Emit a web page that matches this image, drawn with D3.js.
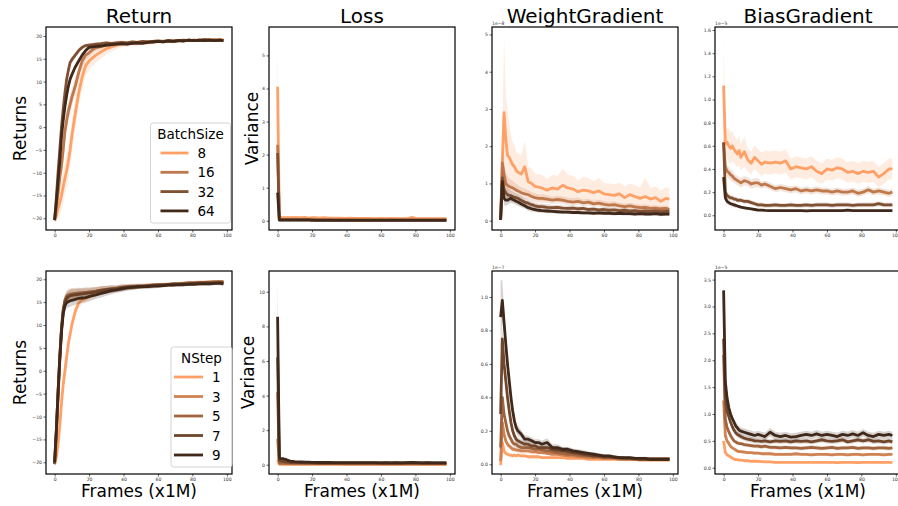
<!DOCTYPE html>
<html>
<head>
<meta charset="utf-8">
<script src="https://cdn.jsdelivr.net/npm/d3@7"></script>
<style>
  body { margin: 0; background: #fff; }
  text { font-family: "DejaVu Sans", sans-serif; }
</style>
</head>
<body>
<svg id="chart" width="898" height="506"></svg>
<script>
// frames (x1M) at which values were read
const frames = [0,1,2,3,4,5,6,7,8,9,10,12,14,16,18,20,22,24,27,30,33,36,39,42,45,48,51,54,57,60,63,66,69,72,75,78,81,84,87,90,93,96,98];

const batchSizes = ["8", "16", "32", "64"];
const nSteps = ["1", "3", "5", "7", "9"];
const titles = ["Return", "Loss", "WeightGradient", "BiasGradient"];
const xTicks = [0, 20, 40, 60, 80, 100];

// ---- top row: batch size ----
const returnBatch = [
  [-20.4,-19.5,-17.8,-16.5,-15,-13,-11.2,-9.5,-7.5,-5,-2, 3,7.5,11,13.5,14.5,15.2,15.8, 16.5,17.2,17.6,18,18.3,18.2,18.5,18.4,18.6,18.5,18.7,18.8,18.7,18.9,18.8,19,18.9,19.1,19,19.1,19,19.2,19.1,19.2, 19.1],
  [-20.4,-17.5,-14.5,-11,-8.5,-5,-1,1.5,3.5,5,6.5, 9,12,14.5,15.8,16.3,17,17.4, 17.7,18,18.1,18.3,18.2,18.4,18.5,18.4,18.6,18.7,18.6,18.8,18.8,18.9,18.8,19,19,19.1,19,19.1,19.2,19.1,19.2,19.1, 19.1],
  [-20.4,-15.5,-10,-5,0,4,7.5,10.5,12.5,14.2,14.8, 15.8,16.8,17.5,17.9,18,18.1,18.2, 18.3,18.5,18.4,18.5,18.6,18.5,18.7,18.6,18.8,18.7,18.8,18.9,18.8,19,18.9,19,19.1,19,19.1,19,19.2,19.1,19,19.1, 19],
  [-20.4,-16.5,-12,-7.5,-2,1.5,4.5,7,9,10.5,11.5, 13.2,14.5,15.8,16.8,17.5,17.6,17.7, 17.8,18,18.1,18.2,18.3,18.2,18.4,18.5,18.4,18.6,18.7,18.8,18.7,18.9,18.8,19,18.9,19.1,19,19.1,19,19.1,19,19.1, 19]
];
const returnBatchBand = [
  [0.3,1.5,2.2,2.8,3.2,3.4,3.5,3.5,3.5,3.5,3.4, 3.2,3,2.6,2.3,2,1.8,1.6, 1.4,1.2,1,0.9,0.8,0.7,0.6,0.6,0.5,0.5,0.5,0.5,0.45,0.45,0.4,0.4,0.4,0.4,0.4,0.4,0.4,0.4,0.4,0.4, 0.4],
  [0.3,1.8,2.4,2.6,2.6,2.5,2.4,2.3,2.2,2.1,2, 1.8,1.6,1.3,1.1,0.9,0.8,0.7, 0.6,0.5,0.5,0.45,0.4,0.4,0.4,0.35,0.35,0.35,0.3,0.3,0.3,0.3,0.3,0.3,0.3,0.3,0.3,0.3,0.3,0.3,0.3,0.3, 0.3],
  [0.3,1.5,1.8,1.8,1.6,1.4,1.2,1,0.9,0.8,0.7, 0.6,0.5,0.45,0.4,0.4,0.35,0.35, 0.3,0.3,0.3,0.3,0.3,0.3,0.3,0.3,0.3,0.3,0.3,0.3,0.3,0.3,0.3,0.3,0.3,0.3,0.3,0.3,0.3,0.3,0.3,0.3, 0.3],
  [0.3,1.5,1.8,1.8,1.6,1.4,1.2,1,0.9,0.8,0.7, 0.6,0.5,0.45,0.4,0.4,0.35,0.35, 0.3,0.3,0.3,0.3,0.3,0.3,0.3,0.3,0.3,0.3,0.3,0.3,0.3,0.3,0.3,0.3,0.3,0.3,0.3,0.3,0.3,0.3,0.3,0.3, 0.3]
];

const lossBatch = [
  [4.05,0.08,0.1,0.09,0.1,0.09,0.1,0.09,0.1,0.09,0.1, 0.09,0.09,0.1,0.08,0.09,0.09,0.08, 0.09,0.08,0.08,0.08,0.07,0.08,0.07,0.07,0.07,0.07,0.06,0.07,0.06,0.07,0.06,0.06,0.06,0.1,0.06,0.06,0.06,0.06,0.06,0.06, 0.06],
  [2.3,0.04,0.04,0.04,0.04,0.04,0.04,0.04,0.04,0.04,0.04, 0.04,0.04,0.04,0.04,0.04,0.04,0.04, 0.04,0.04,0.03,0.03,0.03,0.03,0.03,0.03,0.03,0.03,0.03,0.03,0.03,0.03,0.03,0.03,0.03,0.03,0.03,0.03,0.03,0.03,0.03,0.03, 0.03],
  [2.05,0.03,0.03,0.03,0.03,0.03,0.03,0.03,0.03,0.03,0.03, 0.03,0.03,0.03,0.03,0.03,0.02,0.02, 0.02,0.02,0.02,0.02,0.02,0.02,0.02,0.02,0.02,0.02,0.02,0.02,0.02,0.02,0.02,0.02,0.02,0.02,0.02,0.02,0.02,0.02,0.02,0.02, 0.02],
  [0.85,0.02,0.02,0.02,0.02,0.02,0.02,0.02,0.02,0.02,0.02, 0.02,0.02,0.02,0.02,0.01,0.01,0.01, 0.01,0.01,0.01,0.01,0.01,0.01,0.01,0.01,0.01,0.01,0.01,0.01,0.01,0.01,0.01,0.01,0.01,0.01,0.01,0.01,0.01,0.01,0.01,0.01, 0.01]
];
const lossBatchBand = [
  [1.5,0.03,0.03,0.03,0.03,0.03,0.03,0.03,0.03,0.03,0.03, 0.03,0.03,0.03,0.03,0.03,0.03,0.03, 0.03,0.03,0.03,0.03,0.03,0.03,0.03,0.03,0.03,0.03,0.03,0.03,0.03,0.03,0.03,0.03,0.03,0.04,0.03,0.03,0.03,0.03,0.03,0.03, 0.03],
  [0.35,0.02,0.02,0.02,0.02,0.02,0.02,0.02,0.02,0.02,0.02, 0.02,0.02,0.02,0.02,0.02,0.02,0.02, 0.02,0.02,0.02,0.02,0.02,0.02,0.02,0.02,0.02,0.02,0.02,0.02,0.02,0.02,0.02,0.02,0.02,0.02,0.02,0.02,0.02,0.02,0.02,0.02, 0.02],
  [0.3,0.01,0.01,0.01,0.01,0.01,0.01,0.01,0.01,0.01,0.01, 0.01,0.01,0.01,0.01,0.01,0.01,0.01, 0.01,0.01,0.01,0.01,0.01,0.01,0.01,0.01,0.01,0.01,0.01,0.01,0.01,0.01,0.01,0.01,0.01,0.01,0.01,0.01,0.01,0.01,0.01,0.01, 0.01],
  [0.1,0.01,0.01,0.01,0.01,0.01,0.01,0.01,0.01,0.01,0.01, 0.01,0.01,0.01,0.01,0.01,0.01,0.01, 0.01,0.01,0.01,0.01,0.01,0.01,0.01,0.01,0.01,0.01,0.01,0.01,0.01,0.01,0.01,0.01,0.01,0.01,0.01,0.01,0.01,0.01,0.01,0.01, 0.01]
];

const weightBatch = [
  [0.02,1.6,2.9,2.2,1.75,1.7,1.6,1.5,1.45,1.35,1.3, 1.25,1.45,1.05,1.0,0.92,0.9,0.88, 0.82,0.88,0.85,0.95,0.88,0.85,0.78,0.82,0.8,0.75,0.8,0.72,0.7,0.68,0.72,0.62,0.7,0.65,0.6,0.65,0.58,0.62,0.52,0.6, 0.58],
  [0.02,1.55,1.25,1.0,0.95,0.92,0.9,0.88,0.85,0.82,0.8, 0.75,0.72,0.7,0.65,0.62,0.6,0.6, 0.58,0.55,0.57,0.55,0.52,0.5,0.52,0.48,0.5,0.45,0.47,0.44,0.42,0.43,0.4,0.38,0.4,0.37,0.35,0.36,0.33,0.34,0.32,0.33, 0.3],
  [0.02,1.15,0.85,0.75,0.7,0.68,0.67,0.65,0.63,0.62,0.6, 0.55,0.5,0.47,0.43,0.4,0.38,0.38, 0.36,0.35,0.36,0.34,0.33,0.34,0.32,0.33,0.3,0.31,0.29,0.3,0.28,0.29,0.27,0.28,0.26,0.27,0.25,0.26,0.25,0.26,0.24,0.25, 0.25],
  [0.02,1.05,0.6,0.55,0.55,0.58,0.6,0.57,0.55,0.52,0.5, 0.45,0.4,0.35,0.32,0.3,0.28,0.27, 0.26,0.25,0.24,0.23,0.23,0.22,0.22,0.21,0.21,0.2,0.21,0.2,0.2,0.19,0.2,0.19,0.19,0.18,0.19,0.18,0.18,0.19,0.17,0.18, 0.18]
];
const weightBatchBand = [
  [0.05,0.8,2.05,1.2,1.2,0.9,0.7,0.6,0.6,0.5,0.5, 0.5,0.7,0.4,0.4,0.35,0.35,0.35, 0.3,0.35,0.35,0.45,0.35,0.35,0.3,0.35,0.35,0.3,0.35,0.3,0.3,0.3,0.3,0.3,0.3,0.3,0.3,0.5,0.3,0.3,0.3,0.3, 0.3],
  [0.02,0.4,0.35,0.3,0.25,0.22,0.2,0.2,0.18,0.18,0.16, 0.15,0.14,0.13,0.12,0.12,0.11,0.11, 0.1,0.1,0.1,0.1,0.1,0.1,0.1,0.09,0.09,0.09,0.09,0.09,0.09,0.09,0.08,0.08,0.08,0.08,0.08,0.08,0.08,0.08,0.08,0.08, 0.08],
  [0.02,0.3,0.25,0.2,0.18,0.16,0.15,0.14,0.13,0.12,0.12, 0.11,0.1,0.1,0.09,0.09,0.08,0.08, 0.08,0.07,0.07,0.07,0.07,0.07,0.06,0.06,0.06,0.06,0.06,0.06,0.06,0.06,0.06,0.06,0.06,0.06,0.06,0.06,0.06,0.06,0.06,0.06, 0.06],
  [0.02,0.25,0.18,0.15,0.13,0.12,0.12,0.11,0.1,0.1,0.1, 0.09,0.08,0.08,0.07,0.07,0.06,0.06, 0.06,0.05,0.05,0.05,0.05,0.05,0.05,0.05,0.05,0.05,0.05,0.05,0.05,0.05,0.05,0.05,0.05,0.05,0.05,0.05,0.05,0.05,0.05,0.05, 0.05]
];

const biasBatch = [
  [1.12,0.62,0.63,0.6,0.58,0.6,0.57,0.55,0.53,0.56,0.5, 0.55,0.48,0.45,0.5,0.47,0.44,0.46, 0.45,0.46,0.45,0.47,0.4,0.42,0.41,0.4,0.42,0.38,0.36,0.4,0.39,0.41,0.4,0.37,0.38,0.36,0.38,0.37,0.38,0.33,0.36,0.4, 0.4],
  [0.63,0.42,0.38,0.37,0.35,0.34,0.32,0.31,0.3,0.29,0.28, 0.3,0.29,0.27,0.28,0.28,0.26,0.27, 0.25,0.23,0.24,0.23,0.22,0.23,0.21,0.22,0.21,0.22,0.21,0.21,0.2,0.21,0.2,0.2,0.21,0.19,0.2,0.22,0.2,0.21,0.2,0.19, 0.2],
  [0.63,0.2,0.17,0.16,0.15,0.15,0.14,0.14,0.13,0.13,0.13, 0.12,0.12,0.11,0.1,0.09,0.09,0.085, 0.085,0.09,0.085,0.085,0.09,0.085,0.085,0.09,0.085,0.09,0.09,0.09,0.085,0.09,0.09,0.09,0.085,0.09,0.09,0.09,0.09,0.1,0.09,0.09, 0.09],
  [0.33,0.15,0.12,0.11,0.1,0.095,0.09,0.085,0.08,0.075,0.07, 0.065,0.06,0.055,0.05,0.045,0.045,0.042, 0.04,0.04,0.04,0.04,0.04,0.04,0.04,0.038,0.04,0.04,0.04,0.04,0.04,0.04,0.04,0.045,0.04,0.04,0.04,0.04,0.04,0.04,0.04,0.04, 0.04]
];
const biasBatchBand = [
  [0.43,0.12,0.12,0.15,0.14,0.13,0.12,0.12,0.12,0.13,0.11, 0.13,0.1,0.1,0.1,0.1,0.1,0.1, 0.1,0.1,0.1,0.1,0.09,0.09,0.09,0.09,0.09,0.09,0.09,0.09,0.09,0.09,0.09,0.09,0.09,0.09,0.09,0.09,0.09,0.09,0.09,0.09, 0.09],
  [0.05,0.05,0.05,0.05,0.05,0.05,0.04,0.04,0.04,0.04,0.04, 0.04,0.04,0.04,0.04,0.04,0.03,0.03, 0.03,0.03,0.03,0.03,0.03,0.03,0.03,0.03,0.03,0.03,0.03,0.03,0.03,0.03,0.03,0.03,0.03,0.03,0.03,0.03,0.03,0.03,0.03,0.03, 0.03],
  [0.03,0.03,0.03,0.03,0.02,0.02,0.02,0.02,0.02,0.02,0.02, 0.02,0.02,0.02,0.02,0.02,0.02,0.02, 0.02,0.02,0.02,0.02,0.02,0.02,0.02,0.02,0.02,0.02,0.02,0.02,0.02,0.02,0.02,0.02,0.02,0.02,0.02,0.02,0.02,0.02,0.02,0.02, 0.02],
  [0.02,0.02,0.02,0.02,0.02,0.02,0.02,0.02,0.01,0.01,0.01, 0.01,0.01,0.01,0.01,0.01,0.01,0.01, 0.01,0.01,0.01,0.01,0.01,0.01,0.01,0.01,0.01,0.01,0.01,0.01,0.01,0.01,0.01,0.01,0.01,0.01,0.01,0.01,0.01,0.01,0.01,0.01, 0.01]
];

// ---- bottom row: n-step ----
const returnNStep = [
  [-20.4,-19,-16,-12,-7,-3,0,3,6,8,10, 13,14.8,15.5,15.8,16.2,16.5,16.8, 17.2,17.5,17.7,17.9,18.1,18.2,18.3,18.4,18.4,18.5,18.6,18.6,18.7,18.8,18.8,18.9,19,19,19.1,19.1,19.2,19.2,19.3,19.3, 19.3],
  [-20.4,-14,-6,2,9,13,15,15.8,16.2,16.4,16.6, 16.8,16.9,17,17.1,17.2,17.3,17.4, 17.6,17.8,17.9,18,18.2,18.3,18.4,18.5,18.5,18.6,18.7,18.8,18.8,18.9,19,19,19.1,19.2,19.2,19.3,19.3,19.4,19.4,19.5, 19.4],
  [-20.4,-13.5,-5,3,9.5,13.5,15.5,16.3,16.6,16.7,16.8, 16.9,17,17,17.1,17.2,17.3,17.4, 17.6,17.8,17.9,18,18.2,18.3,18.4,18.5,18.5,18.6,18.7,18.8,18.8,18.9,19,19,19.1,19.2,19.2,19.3,19.3,19.3,19.4,19.4, 19.4],
  [-20.2,-13,-4.5,3,9,13,15,15.8,16.2,16.4,16.5, 16.6,16.7,16.8,16.9,17,17.1,17.3, 17.5,17.7,17.8,17.9,18.1,18.2,18.3,18.4,18.4,18.5,18.6,18.7,18.7,18.8,18.9,18.9,19,19,19.1,19.1,19.2,19.2,19.2,19.3, 19.2],
  [-20,-13,-5,2.5,8.5,12.5,14.2,14.9,15.1,15.3,15.4, 15.6,15.8,15.9,16,16.2,16.4,16.6, 16.9,17.2,17.5,17.7,17.9,18.1,18.2,18.3,18.4,18.4,18.5,18.5,18.6,18.7,18.7,18.8,18.8,18.9,18.9,19,19,19,19.1,19.1, 19]
];
const returnNStepBand = [
  [0.4,1,1.5,1.8,2,2,2,2,1.8,1.6,1.4, 1.2,1,0.9,0.8,0.8,0.7,0.7, 0.6,0.6,0.5,0.5,0.5,0.5,0.5,0.4,0.4,0.4,0.4,0.4,0.4,0.4,0.4,0.4,0.4,0.4,0.4,0.4,0.4,0.4,0.4,0.4, 0.4],
  [0.3,2,2.5,2.5,2,1.6,1.4,1.3,1.3,1.3,1.3, 1.2,1.2,1.1,1.1,1,1,0.9, 0.9,0.8,0.8,0.7,0.7,0.6,0.6,0.5,0.5,0.5,0.5,0.4,0.4,0.4,0.4,0.4,0.4,0.4,0.4,0.4,0.4,0.4,0.4,0.4, 0.4],
  [0.3,2,2.5,2.5,2,1.6,1.4,1.3,1.3,1.3,1.3, 1.2,1.2,1.1,1.1,1,1,0.9, 0.9,0.8,0.8,0.7,0.7,0.6,0.6,0.5,0.5,0.5,0.5,0.4,0.4,0.4,0.4,0.4,0.4,0.4,0.4,0.4,0.4,0.4,0.4,0.4, 0.4],
  [0.3,2,2.5,2.5,2,1.6,1.4,1.3,1.3,1.3,1.3, 1.2,1.2,1.1,1.1,1,1,0.9, 0.9,0.8,0.8,0.7,0.7,0.6,0.6,0.5,0.5,0.5,0.5,0.4,0.4,0.4,0.4,0.4,0.4,0.4,0.4,0.4,0.4,0.4,0.4,0.4, 0.4],
  [0.3,2,2.5,2.5,2,1.6,1.4,1.3,1.3,1.3,1.3, 1.2,1.2,1.1,1.1,1,1,0.9, 0.9,0.8,0.8,0.7,0.7,0.6,0.6,0.5,0.5,0.5,0.5,0.4,0.4,0.4,0.4,0.4,0.4,0.4,0.4,0.4,0.4,0.4,0.4,0.4, 0.4]
];

const lossNStep = [
  [0.3,0.03,0.03,0.03,0.03,0.03,0.03,0.03,0.03,0.03,0.03, 0.03,0.03,0.03,0.03,0.03,0.03,0.03, 0.03,0.03,0.03,0.03,0.03,0.03,0.03,0.03,0.03,0.03,0.03,0.03,0.03,0.03,0.03,0.03,0.03,0.03,0.03,0.03,0.03,0.03,0.03,0.03, 0.03],
  [1.5,0.06,0.06,0.06,0.06,0.05,0.05,0.05,0.05,0.05,0.05, 0.05,0.05,0.05,0.05,0.05,0.05,0.05, 0.05,0.05,0.05,0.05,0.04,0.04,0.04,0.04,0.04,0.04,0.04,0.04,0.04,0.04,0.04,0.04,0.04,0.04,0.04,0.04,0.04,0.04,0.04,0.04, 0.04],
  [4.2,0.12,0.1,0.1,0.1,0.09,0.09,0.09,0.08,0.08,0.08, 0.08,0.08,0.08,0.08,0.08,0.07,0.07, 0.07,0.07,0.07,0.07,0.07,0.07,0.07,0.07,0.07,0.07,0.07,0.07,0.07,0.07,0.07,0.07,0.07,0.07,0.07,0.07,0.07,0.07,0.07,0.07, 0.07],
  [6.2,0.25,0.22,0.2,0.18,0.16,0.15,0.14,0.13,0.13,0.12, 0.12,0.12,0.11,0.11,0.11,0.11,0.1, 0.1,0.1,0.1,0.1,0.1,0.1,0.1,0.1,0.1,0.1,0.1,0.1,0.1,0.1,0.1,0.1,0.1,0.1,0.1,0.1,0.1,0.1,0.1,0.1, 0.1],
  [8.55,0.38,0.36,0.35,0.33,0.3,0.25,0.22,0.2,0.19,0.18, 0.17,0.16,0.15,0.15,0.14,0.14,0.13, 0.13,0.13,0.12,0.12,0.12,0.12,0.12,0.12,0.12,0.12,0.12,0.11,0.12,0.11,0.12,0.11,0.12,0.13,0.12,0.11,0.12,0.11,0.11,0.11, 0.11]
];
const lossNStepBand = [
  [0.2,0.01,0.01,0.01,0.01,0.01,0.01,0.01,0.01,0.01,0.01, 0.01,0.01,0.01,0.01,0.01,0.01,0.01, 0.01,0.01,0.01,0.01,0.01,0.01,0.01,0.01,0.01,0.01,0.01,0.01,0.01,0.01,0.01,0.01,0.01,0.01,0.01,0.01,0.01,0.01,0.01,0.01, 0.01],
  [0.5,0.02,0.02,0.02,0.02,0.02,0.02,0.02,0.02,0.02,0.02, 0.02,0.02,0.02,0.02,0.02,0.02,0.02, 0.02,0.02,0.02,0.02,0.02,0.02,0.02,0.02,0.02,0.02,0.02,0.02,0.02,0.02,0.02,0.02,0.02,0.02,0.02,0.02,0.02,0.02,0.02,0.02, 0.02],
  [0.8,0.03,0.03,0.03,0.03,0.03,0.03,0.03,0.03,0.03,0.03, 0.03,0.03,0.03,0.03,0.03,0.03,0.03, 0.03,0.03,0.03,0.03,0.03,0.03,0.03,0.03,0.03,0.03,0.03,0.03,0.03,0.03,0.03,0.03,0.03,0.03,0.03,0.03,0.03,0.03,0.03,0.03, 0.03],
  [1.0,0.05,0.05,0.05,0.04,0.04,0.04,0.04,0.04,0.04,0.04, 0.04,0.04,0.04,0.04,0.04,0.04,0.04, 0.04,0.04,0.04,0.04,0.04,0.04,0.04,0.04,0.04,0.04,0.04,0.04,0.04,0.04,0.04,0.04,0.04,0.04,0.04,0.04,0.04,0.04,0.04,0.04, 0.04],
  [2.2,0.1,0.08,0.07,0.06,0.05,0.05,0.05,0.05,0.05,0.04, 0.04,0.04,0.04,0.04,0.04,0.04,0.04, 0.04,0.04,0.04,0.04,0.04,0.04,0.04,0.04,0.04,0.04,0.04,0.04,0.04,0.04,0.04,0.04,0.04,0.05,0.04,0.04,0.04,0.04,0.04,0.04, 0.04]
];

const weightNStep = [
  [-0.005,0.13,0.08,0.065,0.06,0.055,0.055,0.05,0.055,0.05,0.055, 0.05,0.05,0.045,0.045,0.045,0.045,0.04, 0.04,0.04,0.04,0.04,0.035,0.035,0.035,0.035,0.03,0.03,0.03,0.03,0.03,0.03,0.03,0.028,0.028,0.028,0.025,0.025,0.025,0.025,0.025,0.025, 0.025],
  [0.02,0.25,0.18,0.14,0.12,0.11,0.1,0.09,0.09,0.085,0.085, 0.08,0.08,0.08,0.075,0.075,0.07,0.07, 0.065,0.06,0.06,0.055,0.05,0.05,0.045,0.045,0.04,0.04,0.04,0.035,0.035,0.035,0.03,0.03,0.03,0.03,0.03,0.03,0.03,0.03,0.03,0.03, 0.03],
  [0.1,0.4,0.3,0.25,0.2,0.17,0.15,0.13,0.12,0.12,0.11, 0.1,0.1,0.1,0.095,0.09,0.09,0.085, 0.08,0.075,0.07,0.065,0.06,0.06,0.055,0.05,0.05,0.045,0.045,0.04,0.04,0.04,0.035,0.035,0.035,0.03,0.03,0.03,0.03,0.03,0.03,0.03, 0.03],
  [0.3,0.75,0.6,0.5,0.4,0.32,0.25,0.2,0.17,0.15,0.14, 0.13,0.12,0.12,0.11,0.11,0.1,0.1, 0.1,0.09,0.085,0.08,0.075,0.07,0.065,0.06,0.055,0.05,0.05,0.045,0.045,0.04,0.04,0.035,0.035,0.035,0.03,0.03,0.03,0.03,0.03,0.03, 0.03],
  [0.88,0.98,0.85,0.72,0.6,0.5,0.4,0.32,0.26,0.22,0.2, 0.18,0.15,0.15,0.14,0.13,0.13,0.12, 0.13,0.1,0.1,0.09,0.09,0.08,0.075,0.07,0.065,0.06,0.055,0.05,0.05,0.045,0.04,0.04,0.04,0.035,0.035,0.035,0.03,0.03,0.03,0.03, 0.03]
];
const weightNStepBand = [
  [0.01,0.02,0.01,0.01,0.01,0.01,0.01,0.01,0.01,0.01,0.01, 0.01,0.01,0.01,0.01,0.01,0.01,0.01, 0.01,0.01,0.01,0.01,0.01,0.01,0.01,0.01,0.01,0.01,0.01,0.01,0.01,0.01,0.01,0.01,0.01,0.01,0.01,0.01,0.01,0.01,0.01,0.01, 0.01],
  [0.02,0.04,0.03,0.02,0.02,0.015,0.015,0.015,0.015,0.015,0.015, 0.015,0.015,0.015,0.015,0.015,0.01,0.01, 0.01,0.01,0.01,0.01,0.01,0.01,0.01,0.01,0.01,0.01,0.01,0.01,0.01,0.01,0.01,0.01,0.01,0.01,0.01,0.01,0.01,0.01,0.01,0.01, 0.01],
  [0.06,0.06,0.04,0.03,0.03,0.02,0.02,0.02,0.02,0.02,0.02, 0.02,0.015,0.015,0.015,0.015,0.015,0.015, 0.015,0.015,0.01,0.01,0.01,0.01,0.01,0.01,0.01,0.01,0.01,0.01,0.01,0.01,0.01,0.01,0.01,0.01,0.01,0.01,0.01,0.01,0.01,0.01, 0.01],
  [0.1,0.08,0.06,0.05,0.04,0.03,0.03,0.025,0.025,0.02,0.02, 0.02,0.02,0.02,0.02,0.015,0.015,0.015, 0.015,0.015,0.015,0.01,0.01,0.01,0.01,0.01,0.01,0.01,0.01,0.01,0.01,0.01,0.01,0.01,0.01,0.01,0.01,0.01,0.01,0.01,0.01,0.01, 0.01],
  [0.22,0.12,0.08,0.06,0.05,0.04,0.03,0.03,0.03,0.03,0.03, 0.025,0.025,0.02,0.02,0.02,0.02,0.02, 0.025,0.02,0.02,0.015,0.015,0.015,0.015,0.015,0.012,0.012,0.012,0.01,0.01,0.01,0.01,0.01,0.01,0.01,0.01,0.01,0.01,0.01,0.01,0.01, 0.01]
];

const biasNStep = [
  [0.5,0.28,0.24,0.22,0.2,0.18,0.16,0.15,0.15,0.14,0.14, 0.13,0.13,0.12,0.12,0.12,0.115,0.11, 0.11,0.1,0.1,0.1,0.1,0.1,0.1,0.1,0.1,0.1,0.1,0.1,0.1,0.095,0.1,0.1,0.1,0.095,0.1,0.1,0.1,0.1,0.1,0.1, 0.1],
  [1.25,0.6,0.5,0.45,0.4,0.37,0.35,0.33,0.31,0.3,0.3, 0.29,0.28,0.28,0.27,0.27,0.26,0.26, 0.26,0.25,0.25,0.25,0.25,0.26,0.25,0.25,0.24,0.25,0.25,0.25,0.24,0.25,0.25,0.24,0.25,0.25,0.24,0.25,0.25,0.25,0.24,0.25, 0.25],
  [2.1,0.9,0.75,0.67,0.6,0.55,0.5,0.48,0.46,0.45,0.45, 0.43,0.42,0.41,0.4,0.4,0.39,0.4, 0.38,0.38,0.37,0.38,0.37,0.37,0.36,0.37,0.38,0.37,0.36,0.37,0.38,0.36,0.37,0.37,0.38,0.36,0.37,0.37,0.36,0.37,0.37,0.36, 0.37],
  [2.4,1.3,1.05,0.95,0.85,0.77,0.7,0.65,0.62,0.6,0.58, 0.55,0.53,0.52,0.5,0.5,0.49,0.5, 0.48,0.5,0.49,0.5,0.48,0.5,0.49,0.5,0.48,0.5,0.52,0.5,0.49,0.5,0.52,0.48,0.5,0.52,0.5,0.52,0.49,0.5,0.48,0.5, 0.48],
  [3.3,1.6,1.3,1.12,1.0,0.92,0.85,0.78,0.74,0.7,0.68, 0.66,0.64,0.62,0.6,0.62,0.6,0.58, 0.66,0.6,0.58,0.6,0.57,0.58,0.6,0.62,0.6,0.63,0.6,0.62,0.6,0.58,0.62,0.6,0.63,0.6,0.65,0.6,0.58,0.62,0.6,0.62, 0.6]
];
const biasNStepBand = [
  [0.05,0.03,0.03,0.03,0.03,0.02,0.02,0.02,0.02,0.02,0.02, 0.02,0.02,0.02,0.02,0.02,0.02,0.02, 0.02,0.02,0.02,0.02,0.02,0.02,0.02,0.02,0.02,0.02,0.02,0.02,0.02,0.02,0.02,0.02,0.02,0.02,0.02,0.02,0.02,0.02,0.02,0.02, 0.02],
  [0.1,0.05,0.04,0.04,0.04,0.03,0.03,0.03,0.03,0.03,0.03, 0.03,0.03,0.03,0.03,0.03,0.03,0.03, 0.03,0.03,0.03,0.03,0.03,0.03,0.03,0.03,0.03,0.03,0.03,0.03,0.03,0.03,0.03,0.03,0.03,0.03,0.03,0.03,0.03,0.03,0.03,0.03, 0.03],
  [0.15,0.06,0.05,0.05,0.04,0.04,0.04,0.04,0.04,0.04,0.04, 0.04,0.04,0.04,0.04,0.04,0.04,0.04, 0.04,0.04,0.04,0.04,0.04,0.04,0.04,0.04,0.04,0.04,0.04,0.04,0.04,0.04,0.04,0.04,0.04,0.04,0.04,0.04,0.04,0.04,0.04,0.04, 0.04],
  [0.15,0.08,0.07,0.06,0.06,0.05,0.05,0.05,0.05,0.05,0.05, 0.05,0.05,0.05,0.05,0.05,0.05,0.05, 0.05,0.05,0.05,0.05,0.05,0.05,0.05,0.05,0.05,0.05,0.05,0.05,0.05,0.05,0.05,0.05,0.05,0.05,0.05,0.05,0.05,0.05,0.05,0.05, 0.05],
  [0.2,0.1,0.08,0.07,0.06,0.06,0.06,0.07,0.07,0.07,0.07, 0.07,0.07,0.07,0.07,0.07,0.07,0.07, 0.08,0.07,0.07,0.07,0.07,0.07,0.07,0.07,0.07,0.07,0.07,0.07,0.07,0.07,0.07,0.07,0.07,0.07,0.07,0.07,0.07,0.07,0.07,0.07, 0.07]
];

// copper colormap samples
const batchColors = ["#ffa066", "#bf784c", "#805033", "#40281a"];
const nStepColors = ["#ffa066", "#cf8252", "#a0643f", "#70462c", "#40281a"];

const fmtInt = d3.format("d");
const fmt1 = d3.format(".1f");

const panels = [
  { title: "Return", ylabel: "Returns", mean: returnBatch, band: returnBatchBand, y: [-22.57, 21.97], ticks: d3.range(-20, 21, 5), fmt: fmtInt, labelX: 26 },
  { title: "Loss", ylabel: "Variance", mean: lossBatch, band: lossBatchBand, y: [-0.28, 5.86], ticks: [0,1,2,3,4,5], fmt: fmtInt, labelX: 258 },
  { title: "WeightGradient", mean: weightBatch, band: weightBatchBand, y: [-0.25, 5.2], ticks: [0,1,2,3,4,5], fmt: fmtInt, offset: "1e\u22128" },
  { title: "BiasGradient", mean: biasBatch, band: biasBatchBand, y: [-0.127, 1.626], ticks: [0,0.2,0.4,0.6,0.8,1.0,1.2,1.4,1.6], fmt: fmt1, offset: "1e\u22125" },
  { ylabel: "Returns", mean: returnNStep, band: returnNStepBand, y: [-22.56, 21.8], ticks: d3.range(-20, 21, 5), fmt: fmtInt, labelX: 26 },
  { ylabel: "Variance", mean: lossNStep, band: lossNStepBand, y: [-0.535, 11.2], ticks: [0,2,4,6,8,10], fmt: fmtInt, labelX: 254 },
  { mean: weightNStep, band: weightNStepBand, y: [-0.058, 1.155], ticks: [0,0.2,0.4,0.6,0.8,1.0], fmt: fmt1, offset: "1e\u22127" },
  { mean: biasNStep, band: biasNStepBand, y: [-0.117, 3.66], ticks: [0,0.5,1,1.5,2,2.5,3,3.5], fmt: fmt1, offset: "1e\u22125" }
];

const svg = d3.select("#chart");
const W = 186, H = 203;
const lefts = [46, 269, 492, 715];
const tops = [27, 271];

panels.forEach((p, i) => {
  const col = i % 4, row = Math.floor(i / 4);
  const left = lefts[col], top = tops[row];
  const colors = row === 0 ? batchColors : nStepColors;
  p.mean.forEach((s, k) => {
    if (s.length !== frames.length) console.error("panel", i, "series", k, "len", s.length);
    if (p.band[k].length !== frames.length) console.error("panel", i, "band", k, "len", p.band[k].length);
  });

  const x = d3.scaleLinear().domain([-5, 103]).range([left, left + W]);
  const y = d3.scaleLinear().domain(p.y).range([top + H, top]);

  const clipId = "clip" + i;
  svg.append("clipPath").attr("id", clipId)
    .append("rect").attr("x", left).attr("y", top).attr("width", W).attr("height", H);

  const g = svg.append("g").attr("clip-path", `url(#${clipId})`);

  p.mean.forEach((series, k) => {
    const band = p.band[k];
    const area = d3.area()
      .x((d, j) => x(frames[j]))
      .y0((d, j) => y(d - band[j]))
      .y1((d, j) => y(d + band[j]));
    g.append("path")
      .attr("d", area(series))
      .attr("fill", colors[k])
      .attr("fill-opacity", 0.2);
    const line = d3.line().x((d, j) => x(frames[j])).y(d => y(d));
    g.append("path")
      .attr("d", line(series))
      .attr("fill", "none")
      .attr("stroke", colors[k])
      .attr("stroke-width", 2.8)
      .attr("stroke-linejoin", "round");
  });

  // axes
  const yAxis = d3.axisLeft(y).tickValues(p.ticks).tickFormat(p.fmt).tickSize(2.5).tickPadding(1.5);
  const xAxis = d3.axisBottom(x).tickValues(xTicks).tickFormat(fmtInt).tickSize(2.5).tickPadding(1.5);
  const ya = svg.append("g").attr("transform", `translate(${left},0)`).call(yAxis);
  const xa = svg.append("g").attr("transform", `translate(0,${top + H})`).call(xAxis);
  [ya, xa].forEach(a => {
    a.select(".domain").remove();
    a.selectAll(".tick line").attr("stroke", "#222").attr("stroke-width", 0.7);
    a.selectAll(".tick text").attr("fill", "#333").style("font-size", "4.6px")
      .style("font-family", '"DejaVu Sans", sans-serif');
  });

  svg.append("rect")
    .attr("x", left).attr("y", top).attr("width", W).attr("height", H)
    .attr("fill", "none").attr("stroke", "#000").attr("stroke-width", 1.2);

  if (p.offset) {
    svg.append("text").attr("x", left).attr("y", top - 2.5)
      .attr("fill", "#333").style("font-size", "4.6px").text(p.offset);
  }
  if (p.title) {
    svg.append("text").attr("x", left + W / 2).attr("y", 23)
      .attr("text-anchor", "middle").style("font-size", "20px").text(p.title);
  }
  if (p.ylabel) {
    svg.append("text")
      .attr("transform", `translate(${p.labelX},${top + H / 2}) rotate(-90)`)
      .attr("text-anchor", "middle").style("font-size", "17px").text(p.ylabel);
  }
  if (row === 1) {
    svg.append("text").attr("x", left + W / 2).attr("y", 497)
      .attr("text-anchor", "middle").style("font-size", "17px").text("Frames (x1M)");
  }
});

// legends
function legend(box, title, names, colors, lineX, labelX, firstY, stepY) {
  const lg = svg.append("g");
  lg.append("rect")
    .attr("x", box[0]).attr("y", box[1]).attr("width", box[2]).attr("height", box[3])
    .attr("rx", 2.5).attr("fill", "#fff").attr("fill-opacity", 0.8)
    .attr("stroke", "#d4d4d4").attr("stroke-width", 1);
  lg.append("text").attr("x", box[0] + box[2] / 2).attr("y", box[1] + 16)
    .attr("text-anchor", "middle").style("font-size", "13.5px").text(title);
  names.forEach((n, k) => {
    const yy = firstY + k * stepY;
    lg.append("line").attr("x1", lineX[0]).attr("x2", lineX[1]).attr("y1", yy).attr("y2", yy)
      .attr("stroke", colors[k]).attr("stroke-width", 2.8);
    lg.append("text").attr("x", labelX).attr("y", yy + 5)
      .style("font-size", "13.5px").text(n);
  });
}
legend([150.5, 123, 80, 100], "BatchSize", batchSizes, batchColors, [160.5, 188.5], 197.5, 153, 19.3);
legend([171, 347, 61, 120], "NStep", nSteps, nStepColors, [174, 203], 212, 377, 19.5);
</script>
</body>
</html>
